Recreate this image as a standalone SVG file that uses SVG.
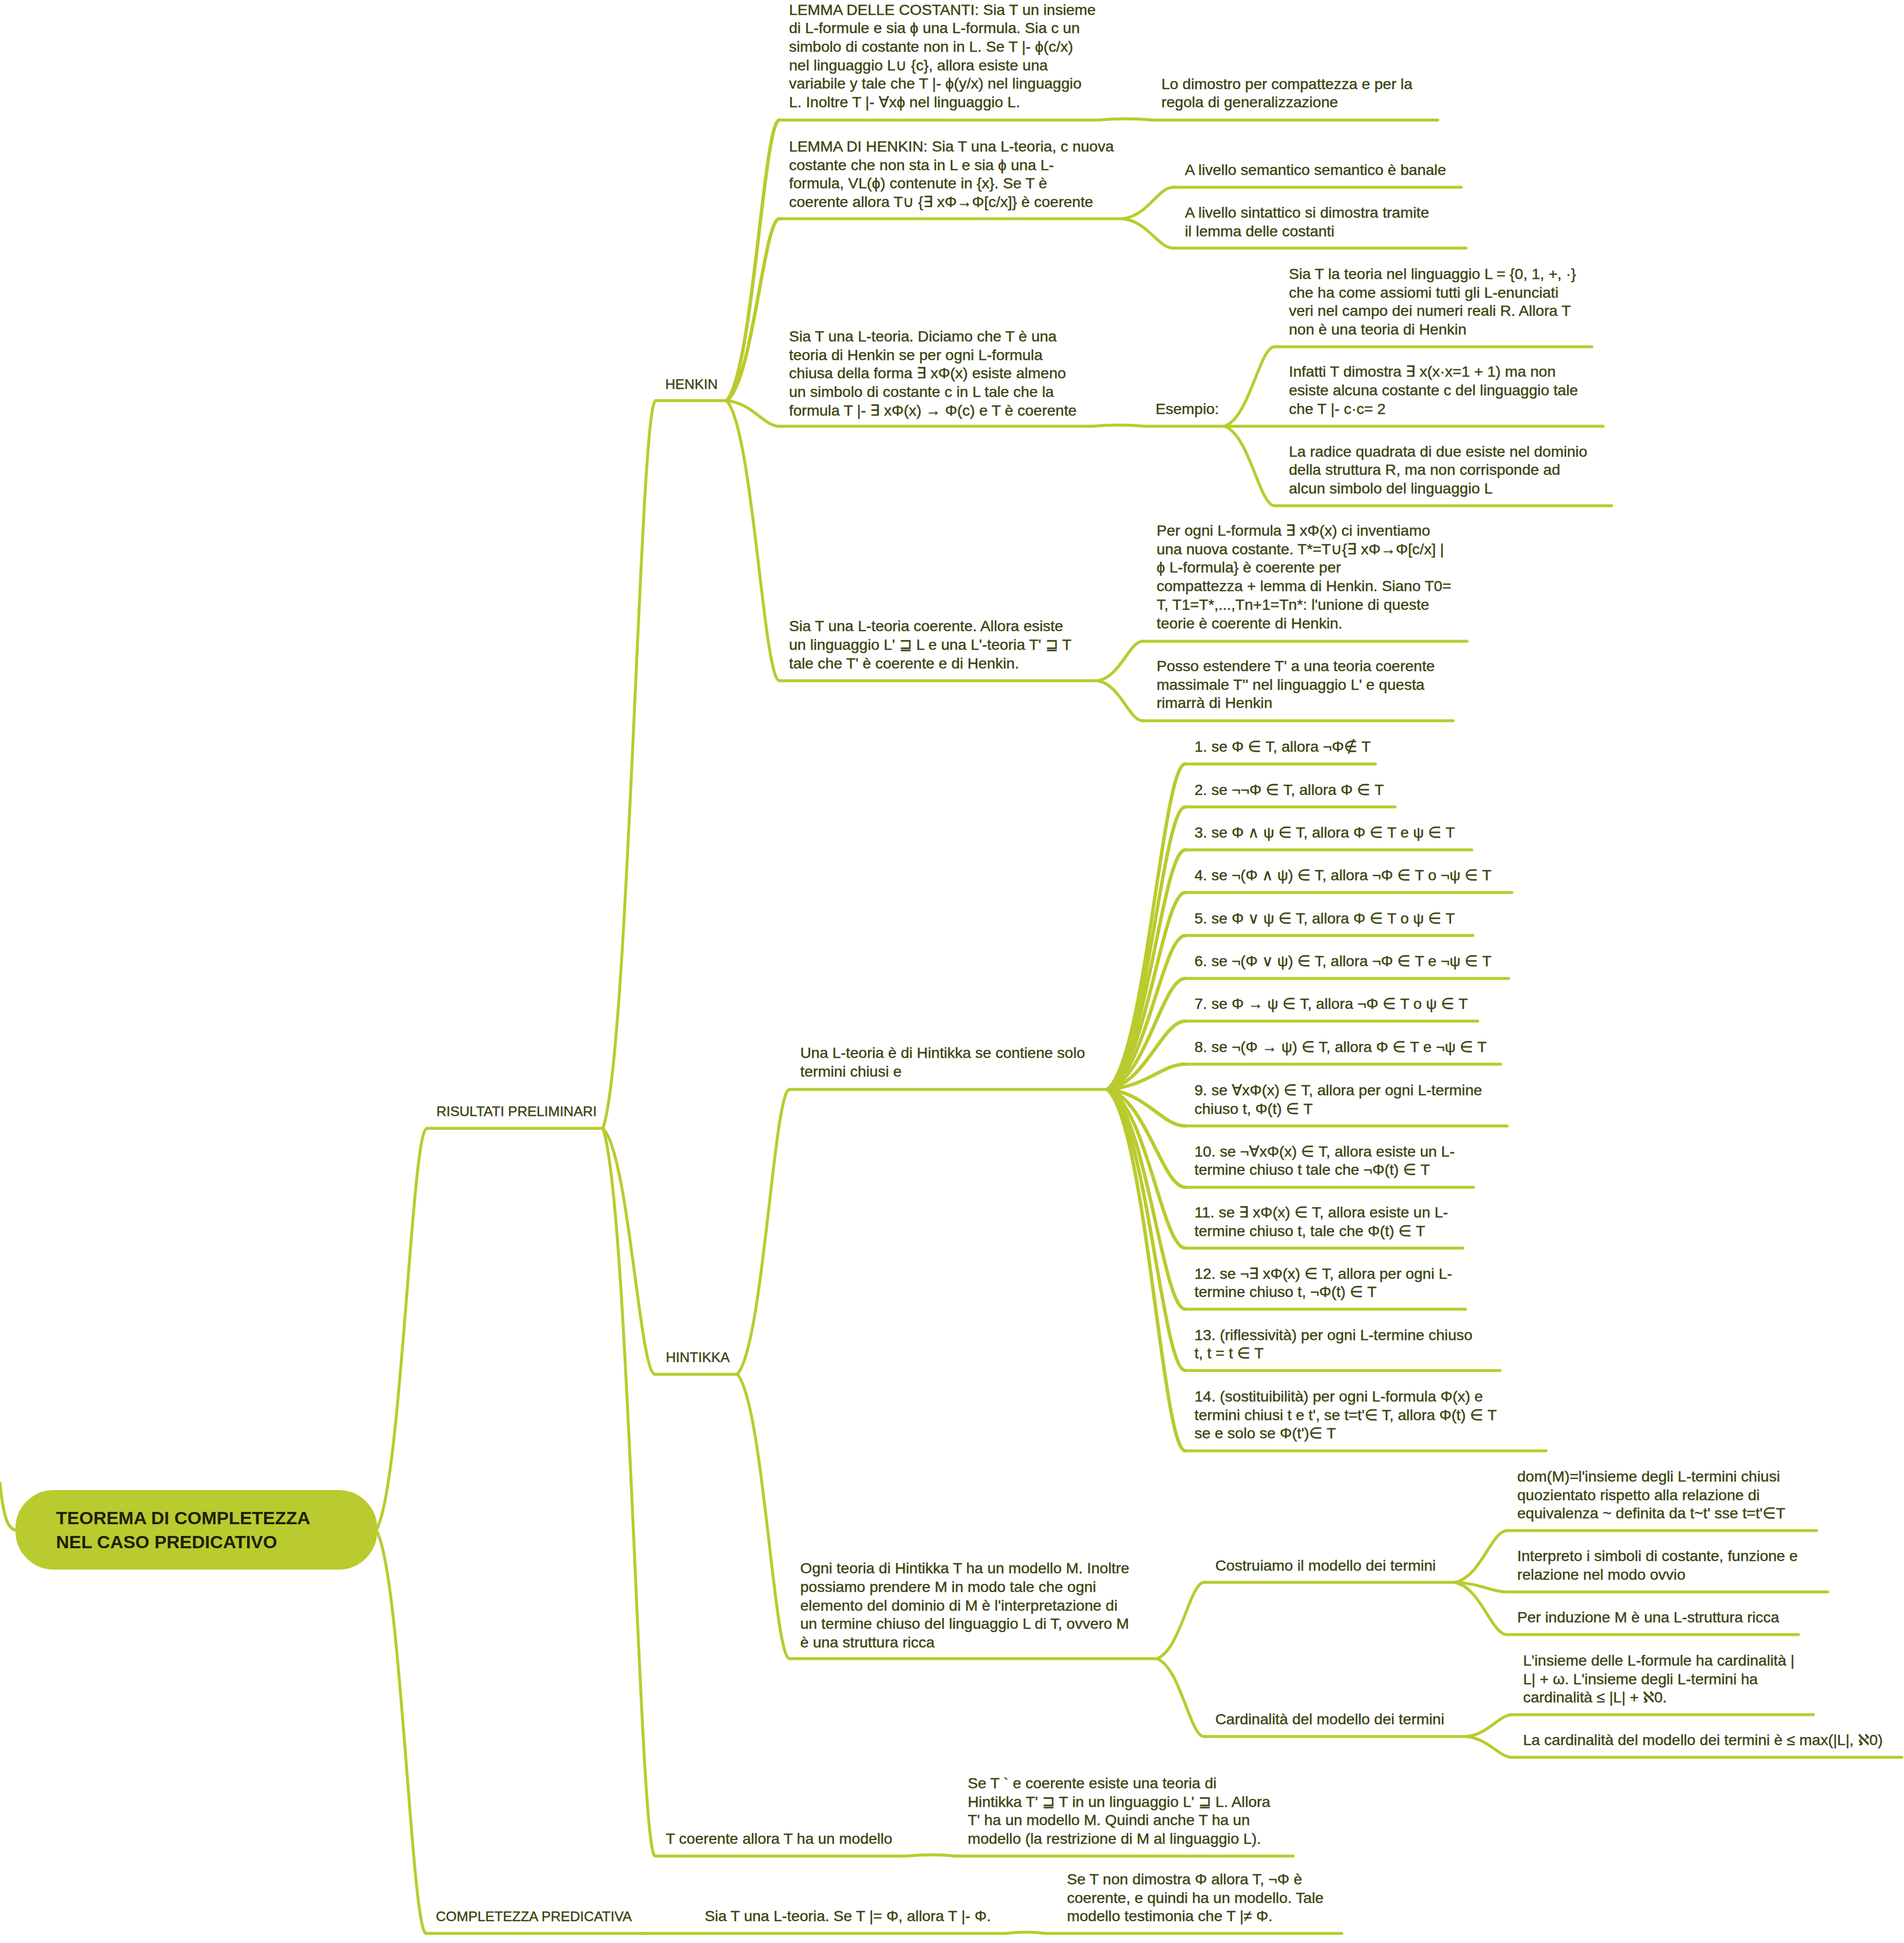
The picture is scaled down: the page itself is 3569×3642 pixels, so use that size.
<svg xmlns="http://www.w3.org/2000/svg" width="3569" height="3642" viewBox="0 0 3569 3642">
<style>
text{font-family:"Liberation Sans",Arial,"DejaVu Sans",sans-serif;font-size:28.5px;fill:#3a4410;stroke:#3a4410;stroke-width:0.45}
.cap{font-size:26px}
.rt{font-size:34px;font-weight:bold;fill:#1e2008;stroke:none}
.ul{stroke:#b9cb2e;stroke-width:5.5;stroke-linecap:round;fill:none}
.c path{stroke:#b9cb2e;stroke-width:5.5;stroke-linecap:round;fill:none}
.c .fan{stroke-width:6.5}
</style>
<rect width="3569" height="3642" fill="#ffffff"/>
<g class="c" id="connectors">
<path d="M0 2780 C6 2840 14 2868 31 2868"/>
<path d="M705 2868 C752.5 2792.7 771.5 2115 800 2115"/>
<path d="M705 2868 C752 2943.6 770.8 3624 799 3624"/>
<path d="M1130 2115 C1179.5 1978.6 1199.3 751 1229 751"/>
<path d="M1130 2115 C1179 2161.1 1198.6 2576 1228 2576"/>
<path d="M1130 2115 C1179 2251.4 1198.6 3479 1228 3479"/>
<path class="fan" d="M1362 751 C1411.5 698.4 1431.3 225 1461 225"/>
<path class="fan" d="M1362 751 C1411.5 716.9 1431.3 410 1461 410"/>
<path d="M1362 751 C1411.5 755.8 1431.3 799 1461 799"/>
<path d="M1362 751 C1411.5 803.5 1431.3 1276 1461 1276"/>
<path d="M2061 225 C2090 222 2130 222 2159 225"/>
<path d="M2105 410 C2152 404.1 2170.8 351 2199 351"/>
<path d="M2105 410 C2152 415.5 2170.8 465 2199 465"/>
<path d="M2047 799 C2080 796 2115 796 2147 799"/>
<path d="M2295 799 C2342 784.1 2360.8 650 2389 650"/>
<path d="M2295 799 L2389 799"/>
<path d="M2295 799 C2342 813.9 2360.8 948 2389 948"/>
<path d="M2058 1276 C2100 1268.6 2116.8 1202 2142 1202"/>
<path d="M2058 1276 C2100 1283.5 2116.8 1351 2142 1351"/>
<path d="M1382 2576 C1431 2522.6 1450.6 2042 1480 2042"/>
<path d="M1382 2576 C1431 2629.3 1450.6 3109 1480 3109"/>
<path class="fan" d="M2076 2042 C2149 1981 2178.2 1432 2222 1432"/>
<path class="fan" d="M2076 2042 C2149 1989 2178.2 1512.5 2222 1512.5"/>
<path class="fan" d="M2076 2042 C2149 1997.1 2178.2 1593 2222 1593"/>
<path class="fan" d="M2076 2042 C2149 2005.1 2178.2 1673 2222 1673"/>
<path class="fan" d="M2076 2042 C2149 2013.2 2178.2 1753.6 2222 1753.6"/>
<path class="fan" d="M2076 2042 C2149 2021.2 2178.2 1834 2222 1834"/>
<path class="fan" d="M2076 2042 C2149 2029.2 2178.2 1914 2222 1914"/>
<path class="fan" d="M2076 2042 C2149 2037.3 2178.2 1994.7 2222 1994.7"/>
<path class="fan" d="M2076 2042 C2149 2048.9 2178.2 2110.6 2222 2110.6"/>
<path class="fan" d="M2076 2042 C2149 2060.3 2178.2 2225.4 2222 2225.4"/>
<path class="fan" d="M2076 2042 C2149 2071.8 2178.2 2339.5 2222 2339.5"/>
<path class="fan" d="M2076 2042 C2149 2083.2 2178.2 2454 2222 2454"/>
<path class="fan" d="M2076 2042 C2149 2094.7 2178.2 2569 2222 2569"/>
<path class="fan" d="M2076 2042 C2149 2109.8 2178.2 2719.5 2222 2719.5"/>
<path d="M2168 3109 C2212.5 3094.7 2230.3 2966 2257 2966"/>
<path d="M2168 3109 C2212.5 3123.6 2230.3 3255 2257 3255"/>
<path d="M2727 2966 C2776 2956.3 2795.6 2869 2825 2869"/>
<path d="M2727 2966 C2776 2967.8 2795.6 2984 2825 2984"/>
<path d="M2727 2966 C2776 2975.8 2795.6 3064 2825 3064"/>
<path d="M2748 3255 C2791.5 3250.9 2808.9 3214 2835 3214"/>
<path d="M2748 3255 C2791.5 3258.9 2808.9 3294 2835 3294"/>
<path d="M1700 3479 C1730 3476 1760 3476 1790 3479"/>
<path d="M1201 3624 L1210 3624"/>
<path d="M1885 3624 C1910 3621 1935 3621 1960 3624"/>
</g>

<g id="root">
<rect x="31" y="2795" width="674" height="145" rx="70" fill="#b9cb2e" stroke="#b9cb2e" stroke-width="4"/>
<text class="rt" x="105" y="2857">TEOREMA DI COMPLETEZZA</text>
<text class="rt" x="105" y="2902">NEL CASO PREDICATIVO</text>
</g>

<g id="risultati">
<text class="cap" x="818" y="2092">RISULTATI PRELIMINARI</text>
<path class="ul" d="M800 2115 L1130 2115"/>
</g>

<g id="henkin">
<text class="cap" x="1247" y="729">HENKIN</text>
<path class="ul" d="M1229 751 L1362 751"/>
</g>

<g id="lemma-costanti">
<text x="1479" y="27.5">LEMMA DELLE COSTANTI: Sia T un insieme</text>
<text x="1479" y="62.2">di L-formule e sia ϕ una L-formula. Sia c un</text>
<text x="1479" y="96.9">simbolo di costante non in L. Se T |- ϕ(c/x)</text>
<text x="1479" y="131.6">nel linguaggio L∪ {c}, allora esiste una</text>
<text x="1479" y="166.3">variabile y tale che T |- ϕ(y/x) nel linguaggio</text>
<text x="1479" y="201">L. Inoltre T |- ∀xϕ nel linguaggio L.</text>
<path class="ul" d="M1461 225 L2061 225"/>
</g>

<g id="lo-dimostro">
<text x="2177" y="167">Lo dimostro per compattezza e per la</text>
<text x="2177" y="201">regola di generalizzazione</text>
<path class="ul" d="M2159 225 L2695 225"/>
</g>

<g id="lemma-henkin">
<text x="1479" y="284">LEMMA DI HENKIN: Sia T una L-teoria, c nuova</text>
<text x="1479" y="318.6">costante che non sta in L e sia ϕ una L-</text>
<text x="1479" y="353.2">formula, VL(ϕ) contenute in {x}. Se T è</text>
<text x="1479" y="388">coerente allora T∪ {∃ xΦ→Φ[c/x]} è coerente</text>
<path class="ul" d="M1461 410 L2105 410"/>
</g>

<g id="semantico">
<text x="2221" y="328">A livello semantico semantico è banale</text>
<path class="ul" d="M2199 351 L2739 351"/>
</g>

<g id="sintattico">
<text x="2221" y="408">A livello sintattico si dimostra tramite</text>
<text x="2221" y="443">il lemma delle costanti</text>
<path class="ul" d="M2199 465 L2748 465"/>
</g>

<g id="def-henkin">
<text x="1479" y="640">Sia T una L-teoria. Diciamo che T è una</text>
<text x="1479" y="674.6">teoria di Henkin se per ogni L-formula</text>
<text x="1479" y="709.3">chiusa della forma ∃ xΦ(x) esiste almeno</text>
<text x="1479" y="744">un simbolo di costante c in L tale che la</text>
<text x="1479" y="778.6">formula T |- ∃ xΦ(x) → Φ(c) e T è coerente</text>
<path class="ul" d="M1461 799 L2047 799"/>
</g>

<g id="esempio">
<text x="2166" y="776">Esempio:</text>
<path class="ul" d="M2147 799 L2295 799"/>
</g>

<g id="es-teoria">
<text x="2416" y="523">Sia T la teoria nel linguaggio L = {0, 1, +, ·}</text>
<text x="2416" y="557.7">che ha come assiomi tutti gli L-enunciati</text>
<text x="2416" y="592.4">veri nel campo dei numeri reali R. Allora T</text>
<text x="2416" y="627">non è una teoria di Henkin</text>
<path class="ul" d="M2389 650 L2984 650"/>
</g>

<g id="es-infatti">
<text x="2416" y="706">Infatti T dimostra ∃ x(x·x=1 + 1) ma non</text>
<text x="2416" y="741">esiste alcuna costante c del linguaggio tale</text>
<text x="2416" y="775.5">che T |- c·c= 2</text>
<path class="ul" d="M2389 799 L3005 799"/>
</g>

<g id="es-radice">
<text x="2416" y="855.5">La radice quadrata di due esiste nel dominio</text>
<text x="2416" y="890">della struttura R, ma non corrisponde ad</text>
<text x="2416" y="924.7">alcun simbolo del linguaggio L</text>
<path class="ul" d="M2389 948 L3021 948"/>
</g>

<g id="henkin-ext">
<text x="1479" y="1183">Sia T una L-teoria coerente. Allora esiste</text>
<text x="1479" y="1218">un linguaggio L' ⊒ L e una L'-teoria T' ⊒ T</text>
<text x="1479" y="1253">tale che T' è coerente e di Henkin.</text>
<path class="ul" d="M1461 1276 L2058 1276"/>
</g>

<g id="per-ogni">
<text x="2168" y="1004">Per ogni L-formula ∃ xΦ(x) ci inventiamo</text>
<text x="2168" y="1038.7">una nuova costante. T*=T∪{∃ xΦ→Φ[c/x] |</text>
<text x="2168" y="1073.4">ϕ L-formula} è coerente per</text>
<text x="2168" y="1108">compattezza + lemma di Henkin. Siano T0=</text>
<text x="2168" y="1142.8">T, T1=T*,...,Tn+1=Tn*: l'unione di queste</text>
<text x="2168" y="1177.5">teorie è coerente di Henkin.</text>
<path class="ul" d="M2142 1202 L2750 1202"/>
</g>

<g id="posso">
<text x="2168" y="1258">Posso estendere T' a una teoria coerente</text>
<text x="2168" y="1292.7">massimale T'' nel linguaggio L' e questa</text>
<text x="2168" y="1327.4">rimarrà di Henkin</text>
<path class="ul" d="M2142 1351 L2724 1351"/>
</g>

<g id="hintikka">
<text class="cap" x="1248" y="2553">HINTIKKA</text>
<path class="ul" d="M1228 2576 L1382 2576"/>
</g>

<g id="def-hintikka">
<text x="1500" y="1983">Una L-teoria è di Hintikka se contiene solo</text>
<text x="1500" y="2018">termini chiusi e</text>
<path class="ul" d="M1480 2042 L2076 2042"/>
</g>

<g id="item1"><text x="2239" y="1409">1. se Φ ∈ T, allora ¬Φ∉ T</text><path class="ul" d="M2222 1432 L2578 1432"/></g>
<g id="item2"><text x="2239" y="1489.5">2. se ¬¬Φ ∈ T, allora Φ ∈ T</text><path class="ul" d="M2222 1512.5 L2615 1512.5"/></g>
<g id="item3"><text x="2239" y="1570">3. se Φ ∧ ψ ∈ T, allora Φ ∈ T e ψ ∈ T</text><path class="ul" d="M2222 1593 L2759 1593"/></g>
<g id="item4"><text x="2239" y="1650">4. se ¬(Φ ∧ ψ) ∈ T, allora ¬Φ ∈ T o ¬ψ ∈ T</text><path class="ul" d="M2222 1673 L2834 1673"/></g>
<g id="item5"><text x="2239" y="1730.6">5. se Φ ∨ ψ ∈ T, allora Φ ∈ T o ψ ∈ T</text><path class="ul" d="M2222 1753.6 L2761 1753.6"/></g>
<g id="item6"><text x="2239" y="1811">6. se ¬(Φ ∨ ψ) ∈ T, allora ¬Φ ∈ T e ¬ψ ∈ T</text><path class="ul" d="M2222 1834 L2828 1834"/></g>
<g id="item7"><text x="2239" y="1891">7. se Φ → ψ ∈ T, allora ¬Φ ∈ T o ψ ∈ T</text><path class="ul" d="M2222 1914 L2770 1914"/></g>
<g id="item8"><text x="2239" y="1971.7">8. se ¬(Φ → ψ) ∈ T, allora Φ ∈ T e ¬ψ ∈ T</text><path class="ul" d="M2222 1994.7 L2813 1994.7"/></g>
<g id="item9">
<text x="2239" y="2053">9. se ∀xΦ(x) ∈ T, allora per ogni L-termine</text>
<text x="2239" y="2087.6">chiuso t, Φ(t) ∈ T</text>
<path class="ul" d="M2222 2110.6 L2825 2110.6"/>
</g>
<g id="item10">
<text x="2239" y="2168">10. se ¬∀xΦ(x) ∈ T, allora esiste un L-</text>
<text x="2239" y="2202.4">termine chiuso t tale che ¬Φ(t) ∈ T</text>
<path class="ul" d="M2222 2225.4 L2762 2225.4"/>
</g>
<g id="item11">
<text x="2239" y="2282">11. se ∃ xΦ(x) ∈ T, allora esiste un L-</text>
<text x="2239" y="2316.5">termine chiuso t, tale che Φ(t) ∈ T</text>
<path class="ul" d="M2222 2339.5 L2742 2339.5"/>
</g>
<g id="item12">
<text x="2239" y="2396.5">12. se ¬∃ xΦ(x) ∈ T, allora per ogni L-</text>
<text x="2239" y="2431">termine chiuso t, ¬Φ(t) ∈ T</text>
<path class="ul" d="M2222 2454 L2747 2454"/>
</g>
<g id="item13">
<text x="2239" y="2511.5">13. (riflessività) per ogni L-termine chiuso</text>
<text x="2239" y="2546">t, t = t ∈ T</text>
<path class="ul" d="M2222 2569 L2812 2569"/>
</g>
<g id="item14">
<text x="2239" y="2627">14. (sostituibilità) per ogni L-formula Φ(x) e</text>
<text x="2239" y="2661.7">termini chiusi t e t', se t=t'∈ T, allora Φ(t) ∈ T</text>
<text x="2239" y="2696.4">se e solo se Φ(t')∈ T</text>
<path class="ul" d="M2222 2719.5 L2898 2719.5"/>
</g>

<g id="modello">
<text x="1500" y="2949">Ogni teoria di Hintikka T ha un modello M. Inoltre</text>
<text x="1500" y="2984">possiamo prendere M in modo tale che ogni</text>
<text x="1500" y="3019">elemento del dominio di M è l'interpretazione di</text>
<text x="1500" y="3053">un termine chiuso del linguaggio L di T, ovvero M</text>
<text x="1500" y="3088">è una struttura ricca</text>
<path class="ul" d="M1480 3109 L2168 3109"/>
</g>

<g id="costruiamo">
<text x="2278" y="2944">Costruiamo il modello dei termini</text>
<path class="ul" d="M2257 2966 L2727 2966"/>
</g>

<g id="dom">
<text x="2844" y="2777">dom(M)=l'insieme degli L-termini chiusi</text>
<text x="2844" y="2811.5">quozientato rispetto alla relazione di</text>
<text x="2844" y="2846">equivalenza ~ definita da t~t' sse t=t'∈T</text>
<path class="ul" d="M2825 2869 L3405 2869"/>
</g>

<g id="interpreto">
<text x="2844" y="2926">Interpreto i simboli di costante, funzione e</text>
<text x="2844" y="2961">relazione nel modo ovvio</text>
<path class="ul" d="M2825 2984 L3426 2984"/>
</g>

<g id="induzione">
<text x="2844" y="3041">Per induzione M è una L-struttura ricca</text>
<path class="ul" d="M2825 3064 L3371 3064"/>
</g>

<g id="cardinalita">
<text x="2278" y="3232">Cardinalità del modello dei termini</text>
<path class="ul" d="M2257 3255 L2748 3255"/>
</g>

<g id="insieme">
<text x="2855" y="3122">L'insieme delle L-formule ha cardinalità |</text>
<text x="2855" y="3156.5">L| + ω. L'insieme degli L-termini ha</text>
<text x="2855" y="3191">cardinalità ≤ |L| + ℵ0.</text>
<path class="ul" d="M2835 3214 L3399 3214"/>
</g>

<g id="card-max">
<text x="2855" y="3271">La cardinalità del modello dei termini è ≤ max(|L|, ℵ0)</text>
<path class="ul" d="M2835 3294 L3565 3294"/>
</g>

<g id="t-coerente">
<text x="1248" y="3456">T coerente allora T ha un modello</text>
<path class="ul" d="M1228 3479 L1700 3479"/>
</g>

<g id="se-t-coerente">
<text x="1814" y="3352">Se T ` e coerente esiste una teoria di</text>
<text x="1814" y="3386.5">Hintikka T' ⊒ T in un linguaggio L' ⊒ L. Allora</text>
<text x="1814" y="3421">T' ha un modello M. Quindi anche T ha un</text>
<text x="1814" y="3456">modello (la restrizione di M al linguaggio L).</text>
<path class="ul" d="M1790 3479 L2424 3479"/>
</g>

<g id="completezza">
<text class="cap" x="817" y="3601">COMPLETEZZA PREDICATIVA</text>
<path class="ul" d="M799 3624 L1201 3624"/>
</g>

<g id="enunciato">
<text x="1321" y="3601">Sia T una L-teoria. Se T |= Φ, allora T |- Φ.</text>
<path class="ul" d="M1210 3624 L1885 3624"/>
</g>

<g id="dimostrazione">
<text x="2000" y="3532">Se T non dimostra Φ allora T, ¬Φ è</text>
<text x="2000" y="3566.5">coerente, e quindi ha un modello. Tale</text>
<text x="2000" y="3601">modello testimonia che T |≠ Φ.</text>
<path class="ul" d="M1960 3624 L2515 3624"/>
</g>
</svg>
